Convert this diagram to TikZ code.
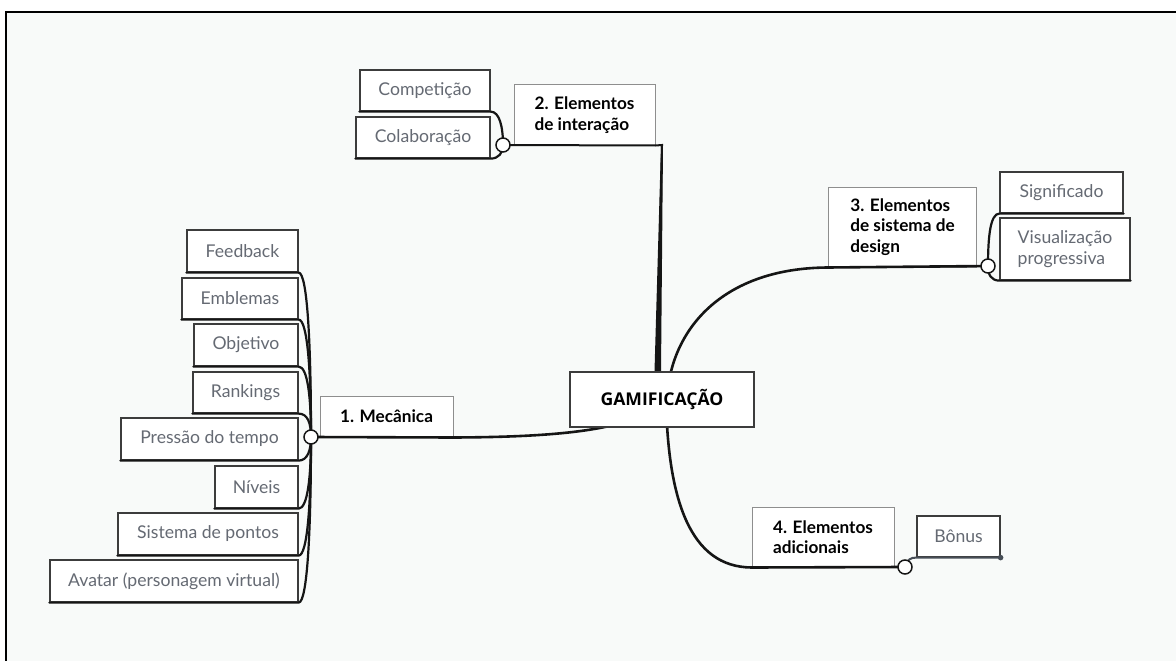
\documentclass[tikz,border=0pt]{standalone}
\usepackage{fontspec}
\setmainfont{Lato}
\newfontfamily\rootfont{Open Sans}
\usetikzlibrary{calc}
\definecolor{bgc}{HTML}{F8FAF9}
\definecolor{childtext}{HTML}{656A73}
\definecolor{childborder}{HTML}{3C3C3C}
\definecolor{parentborder}{HTML}{8E8E8E}
\definecolor{linec}{HTML}{151515}
\definecolor{bonusline}{HTML}{474E57}
\pgfdeclarelayer{background}
\pgfdeclarelayer{foreground}
\pgfsetlayers{background,main,foreground}
\tikzset{
  child/.style={draw=childborder, line width=1.2pt, fill=white, inner sep=0pt,
    text=childtext, font=\fontsize{17.6}{20.5}\selectfont, align=left},
  parent/.style={draw=parentborder, line width=1pt, fill=white, inner sep=0pt,
    text=black, font=\fontsize{17.2}{20.5}\selectfont\bfseries, align=left},
  rootbox/.style={draw=childborder, line width=1.2pt, fill=white, inner sep=0pt,
    text=black, font=\fontsize{17.6}{20.5}\selectfont\rootfont\bfseries},
  hub/.style={circle, draw=linec, line width=1.5pt, fill=white, inner sep=0pt, minimum size=14pt},
  branch/.style={draw=linec, line width=2.6pt, line cap=round},
  twig/.style={draw=linec, line width=2.2pt, line cap=round},
}
\begin{document}
\begin{tikzpicture}[x=1pt, y=-1pt]
\useasboundingbox (0,0) rectangle (1176,661);
\begin{pgfonlayer}{background}
  \fill[white] (0,0) rectangle (1176,661);
  \fill[bgc] (6,12) rectangle (1176,661);
  \draw[black, line width=2pt] (6,661) -- (6,12) -- (1176,12);
\end{pgfonlayer}

% root
\begin{pgfonlayer}{foreground}
  \node[rootbox, minimum width=184pt, minimum height=55pt] (root) at (662,399.5) {GAMIFICAÇÃO};
\end{pgfonlayer}

% parents
\node[parent, minimum width=133pt, minimum height=41pt] (mec) at (386.5,416.5) {1. Mecânica};
\node[parent, minimum width=141pt, minimum height=60pt] (el2) at (584.5,115) {2. Elementos\\de interação};
\node[parent, minimum width=148pt, minimum height=80pt] (el3) at (902.5,227) {3. Elementos\\de sistema de\\design};
\node[parent, minimum width=142pt, minimum height=60pt] (el4) at (823,537) {4. Elementos\\adicionais};

% children of 1
\node[child, minimum width=111pt, minimum height=42pt] (feed) at (242.5,251) {Feedback};
\node[child, minimum width=116pt, minimum height=41pt] (embl) at (240,298.5) {Emblemas};
\node[child, minimum width=104pt, minimum height=42pt] (obj) at (246,345) {Objetivo};
\node[child, minimum width=105pt, minimum height=41pt] (rank) at (245.5,392.5) {Rankings};
\node[child, minimum width=177pt, minimum height=42pt] (press) at (209.5,439) {Pressão do tempo};
\node[child, minimum width=83pt, minimum height=42pt] (niv) at (256.5,487) {Níveis};
\node[child, minimum width=180pt, minimum height=42pt] (sist) at (208,534) {Sistema de pontos};
\node[child, minimum width=248pt, minimum height=42pt] (avat) at (174,581) {Avatar (personagem virtual)};

% children of 2
\node[child, minimum width=130pt, minimum height=41pt] (comp) at (425,90.5) {Competição};
\node[child, minimum width=134pt, minimum height=41pt] (colab) at (423,137.5) {Colaboração};

% children of 3
\node[child, minimum width=123pt, minimum height=41pt] (sig) at (1061.5,192.5) {Significado};
\node[child, minimum width=130pt, minimum height=62pt] (vis) at (1065,249) {Visualização\\progressiva};

% children of 4
\node[child, minimum width=83pt, minimum height=41pt] (bonus) at (958.5,536.5) {Bônus};

% hub positions
\coordinate (h1) at (311,437);
\coordinate (h2) at (503,145);
\coordinate (h3) at (988,266);
\coordinate (h4) at (905,567);
\coordinate (k2) at (662,145);

% main branches
\draw[branch] (root.center) .. controls (640,430) and (560,437) .. (mec.south east) -- (h1);
\draw[branch, line width=2pt] (h2) -- (el2.south east) -- (k2) -- (root.north -| 657.5,0);
\fill[linec] (k2) ++(-1,0) -- ++(2,0) -- (root.north -| 661,0) -- (root.north -| 654.5,0) -- cycle;
\draw[branch] (root.center) ++(5,0) .. controls (670,330) and (722,268) .. (el3.south west) -- (h3);
\draw[branch] (root.center) ++(4,0) .. controls (668,500) and (690,567) .. (el4.south west) -- (h4);

% twigs of 1
\draw[twig] (feed.south west) -- (feed.south east) .. controls +(9,0) and +(0,-90) .. (h1);
\draw[twig] (embl.south west) -- (embl.south east) .. controls +(9,0) and +(0,-65) .. (h1);
\draw[twig] (obj.south west) -- (obj.south east) .. controls +(9,0) and +(0,-40) .. (h1);
\draw[twig] (rank.south west) -- (rank.south east) .. controls +(9,0) and +(0,-14) .. (h1);
\draw[twig] (press.south west) -- (press.south east) .. controls +(9,0) and +(0,13) .. (h1);
\draw[twig] (niv.south west) -- (niv.south east) .. controls +(9,0) and +(0,40) .. (h1);
\draw[twig] (sist.south west) -- (sist.south east) .. controls +(9,0) and +(0,65) .. (h1);
\draw[twig] (avat.south west) -- (avat.south east) .. controls +(9,0) and +(0,90) .. (h1);

% twigs of 2
\draw[twig] (comp.south west) -- (comp.south east) .. controls +(9,0) and +(0,-18) .. (h2);
\draw[twig] (colab.south west) -- (colab.south east) .. controls +(8,0) and +(0,8) .. (h2);

% twigs of 3
\draw[twig] (h3) .. controls +(0,-30) and +(-9,0) .. (sig.south west) -- (sig.south east);
\draw[twig] (h3) .. controls +(0,9) and +(-8,0) .. (vis.south west) -- (vis.south east);

% twig of 4
\draw[twig, draw=bonusline, line width=2pt] (h4) .. controls +(3,-8) and +(-6,0) .. (bonus.south west) -- (bonus.south east);
\fill[bonusline] (bonus.south east) circle (2.8);

% hubs
\node[hub] (c1) at (h1) {};
\node[hub] (c2) at (h2) {};
\node[hub] (c3) at (h3) {};
\node[hub] (c4) at (h4) {};
\end{tikzpicture}
\end{document}
